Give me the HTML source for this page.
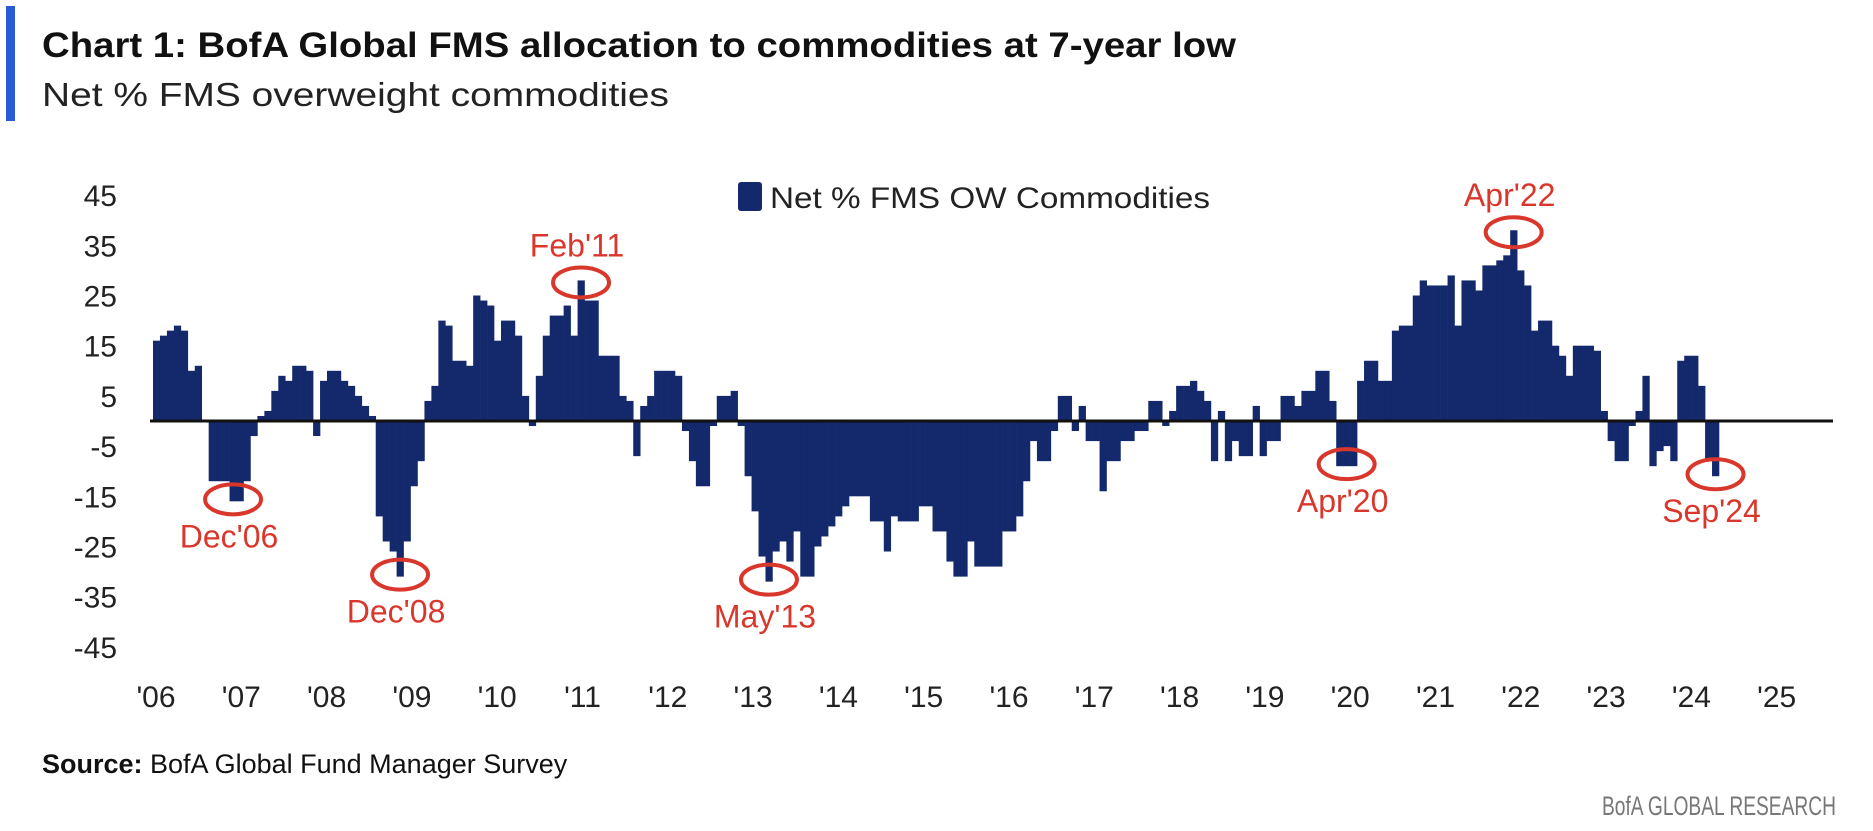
<!DOCTYPE html>
<html>
<head>
<meta charset="utf-8">
<style>
  html,body{margin:0;padding:0;background:#fff;}
  svg{display:block;font-family:"Liberation Sans",sans-serif;}
</style>
</head>
<body>
<svg id="chart" width="1873" height="831" viewBox="0 0 1873 831" xmlns="http://www.w3.org/2000/svg">
  <rect x="6" y="6" width="9" height="115" fill="#2a5bd7"/>
  <text x="42" y="57" font-size="35" font-weight="bold" fill="#111" textLength="1194" lengthAdjust="spacingAndGlyphs">Chart 1: BofA Global FMS allocation to commodities at 7-year low</text>
  <text x="42" y="106" font-size="33" fill="#222" textLength="627" lengthAdjust="spacingAndGlyphs">Net % FMS overweight commodities</text>

  <g>
    <rect x="738" y="182" width="24" height="29" rx="3" fill="#13296b"/>
    <text x="770" y="208" font-size="30" fill="#222" textLength="440" lengthAdjust="spacingAndGlyphs">Net % FMS OW Commodities</text>
  </g>

  <g id="yaxis"></g>
  <g id="xaxis"></g>
  <g id="bars"></g>
  <line x1="150" y1="421" x2="1833" y2="421" stroke="#111" stroke-width="3"/>
  <g id="annots"></g>

  <text x="42" y="773" font-size="27" fill="#111"><tspan font-weight="bold">Source:</tspan> BofA Global Fund Manager Survey</text>
  <text x="1836" y="815" font-size="27" fill="#777" text-anchor="end" textLength="234" lengthAdjust="spacingAndGlyphs">BofA GLOBAL RESEARCH</text>
</svg>
<script>
const yTicks = [45,35,25,15,5,-5,-15,-25,-35,-45];
const xTickLabels = ["'06","'07","'08","'09","'10","'11","'12","'13","'14","'15","'16","'17","'18","'19","'20","'21","'22","'23","'24","'25"];
const values2006_2009 = [16,17,18,19,18,10,11,0,-12,-12,-12,-16,
  -16,-12,-3,1,2,6,9,8,11,11,10,-3,
  8,10,10,8,7,5,3,1,-19,-24,-26,-31,
  -24,-13,-8,4,7,20,19,12,12,11,25,24];
const values2010_2014 = [23,16,20,20,17,5,-1,9,17,21,21,23,
  17,28,24,24,13,13,13,5,4,-7,3,5,
  10,10,10,9,-2,-8,-13,-13,-1,5,5,6,
  -1,-11,-18,-27,-32,-26,-24,-28,-22,-31,-31,-25,
  -23,-21,-19,-17,-15,-15,-15,-20,-20,-26,-19,-20];
const values2015_2019 = [-20,-20,-17,-17,-22,-22,-28,-31,-31,-24,-29,-29,
  -29,-29,-22,-22,-19,-12,-4,-8,-8,-2,5,5,
  -2,3,-4,-4,-14,-8,-8,-4,-4,-2,-2,4,
  4,-1,2,7,7,8,6,4,-8,2,-8,-4,
  -7,-7,3,-7,-4,-4,5,5,3,6,6,10];
const values2020_2024 = [10,4,-9,-9,-9,8,12,12,8,8,18,19,
  19,25,28,27,27,27,29,19,28,28,26,31,
  31,32,33,38,30,27,18,20,20,15,13,9,
  15,15,15,14,2,-4,-8,-8,-1,2,9,-9,
  -6,-5,-8,12,13,13,7,-8,-11];
const annotLabels = ["Dec'06","Dec'08","Feb'11","May'13","Apr'20","Apr'22","Sep'24"];
const annotMonths = [11,35,61,88,171,195,224];
const annotAbove = [false,false,true,false,false,true,false];

const values = values2006_2009.concat(values2010_2014, values2015_2019, values2020_2024);
const NS = "http://www.w3.org/2000/svg";
const y0 = 421, pxPerUnit = 5.02;
const yScale = v => y0 - v * pxPerUnit;
const barStart = 153, step = 6.96;
const xScale = i => barStart + i * step;
const labelX = i => 156 + i * 85.3;

const yaxis = document.getElementById('yaxis');
yTicks.forEach(t => {
  const el = document.createElementNS(NS,'text');
  el.setAttribute('x', 117);
  el.setAttribute('y', yScale(t) + 11);
  el.setAttribute('text-anchor','end');
  el.setAttribute('font-size','30');
  el.setAttribute('fill','#222');
  
  
  el.textContent = t;
  yaxis.appendChild(el);
});

const xaxis = document.getElementById('xaxis');
xTickLabels.forEach((l, i) => {
  const el = document.createElementNS(NS,'text');
  el.setAttribute('x', labelX(i));
  el.setAttribute('y', 707);
  el.setAttribute('text-anchor','middle');
  el.setAttribute('font-size','30');
  el.setAttribute('fill','#222');
  
  
  el.textContent = l;
  xaxis.appendChild(el);
});

const bars = document.getElementById('bars');
values.forEach((v, i) => {
  const r = document.createElementNS(NS,'rect');
  const top = Math.min(yScale(v), y0), h = Math.abs(yScale(v) - y0);
  r.setAttribute('x', xScale(i));
  r.setAttribute('y', top);
  r.setAttribute('width', step + 0.3);
  r.setAttribute('height', Math.max(h, 0.5));
  r.setAttribute('fill', '#13296b');
  
  
  bars.appendChild(r);
});

const annots = document.getElementById('annots');
annotLabels.forEach((lab, k) => {
  const m = annotMonths[k];
  const v = values[m];
  const cx = xScale(m) + step / 2;
  const cy = yScale(v) + (v >= 0 ? 2 : -2);
  const e = document.createElementNS(NS,'ellipse');
  e.setAttribute('cx', cx);
  e.setAttribute('cy', cy);
  e.setAttribute('rx', 28);
  e.setAttribute('ry', 15);
  e.setAttribute('fill','none');
  e.setAttribute('stroke','#d9372b');
  e.setAttribute('stroke-width','4');
  
  
  annots.appendChild(e);
  const t = document.createElementNS(NS,'text');
  t.setAttribute('x', cx - 4);
  t.setAttribute('y', annotAbove[k] ? cy - 26 : cy + 48);
  t.setAttribute('text-anchor','middle');
  t.setAttribute('font-size','32');
  t.setAttribute('fill','#d9372b');
  
  
  t.textContent = lab;
  annots.appendChild(t);
});
</script>
</body>
</html>
